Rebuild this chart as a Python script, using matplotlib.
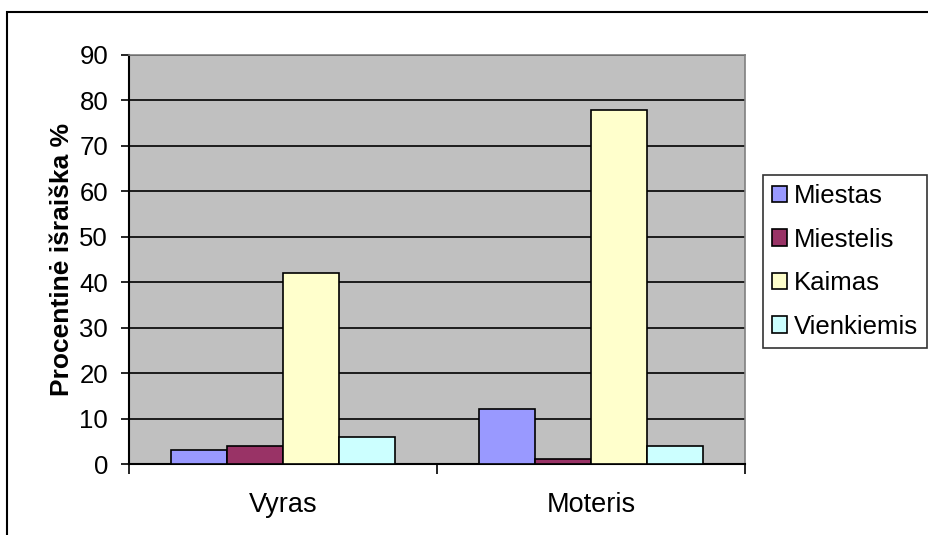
import matplotlib
matplotlib.use("Agg")
import matplotlib.pyplot as plt
from matplotlib.patches import Rectangle
import numpy as np

categories = ["Vyras", "Moteris"]
series_names = ["Miestas", "Miestelis", "Kaimas", "Vienkiemis"]
miestas = [3, 12]
miestelis = [4, 1]
kaimas = [42, 78]
vienkiemis = [6, 4]
values = [miestas, miestelis, kaimas, vienkiemis]
colors = ["#9999FF", "#993366", "#FFFFCC", "#CCFFFF"]
y_ticks = list(range(0, 91, 10))

plt.rcParams['font.family'] = ['Liberation Sans', 'DejaVu Sans']
FS = 19

W, H = 929, 535
fig = plt.figure(figsize=(W / 100, H / 100), dpi=100)
fig.patch.set_facecolor("white")

# chart border (extends beyond right/bottom)
fig.patches.append(Rectangle((7 / W, -0.1), 1.2, 1 - 12 / H + 0.1, transform=fig.transFigure,
                             fill=False, edgecolor="black", linewidth=1.5, zorder=0))

ax = fig.add_axes([129 / W, 1 - 464 / H, (745 - 129) / W, (464 - 55) / H])
ax.set_facecolor("#C0C0C0")

n = len(series_names)
bw = 1 / (n + 1.5)
x = np.arange(len(categories))
for i, (name, vals, c) in enumerate(zip(series_names, values, colors)):
    ax.bar(x + (i - (n - 1) / 2) * bw, vals, width=bw, color=c, edgecolor="black",
           linewidth=1.2, label=name, zorder=3)

ax.set_xlim(-0.5, len(categories) - 0.5)
ax.set_ylim(0, 90)
ax.set_yticks(y_ticks)
ax.yaxis.grid(True, color="black", linewidth=1.2, zorder=1)
ax.set_axisbelow(True)
ax.tick_params(axis="y", direction="out", length=6, width=1.2, labelsize=FS - 0.5, pad=9)

ax.set_xticks(x)
ax.set_xticklabels(categories)
ax.set_xticks(np.arange(-0.5, len(categories), 1.0), minor=True)
ax.tick_params(axis="x", which="major", length=0, labelsize=FS + 0.5, pad=20)
ax.tick_params(axis="x", which="minor", direction="out", length=7, width=1.2)

for s in ["top", "right"]:
    ax.spines[s].set_color("#808080")
    ax.spines[s].set_linewidth(1.2)
for s in ["left", "bottom"]:
    ax.spines[s].set_color("black")
    ax.spines[s].set_linewidth(1.5)

ax.set_ylabel("Procentinė išraiška %", fontsize=FS, fontweight="bold", labelpad=4)

leg = ax.legend(loc="upper left", bbox_to_anchor=(763 / W, 1 - 175 / H), bbox_transform=fig.transFigure,
                fontsize=FS - 0.5, frameon=True, fancybox=False, edgecolor="black",
                handlelength=0.6, handleheight=0.6, handletextpad=0.25, labelspacing=0.76,
                borderpad=0.35, borderaxespad=0)
leg.get_frame().set_linewidth(1.2)

fig.savefig("out.png", dpi=100)
